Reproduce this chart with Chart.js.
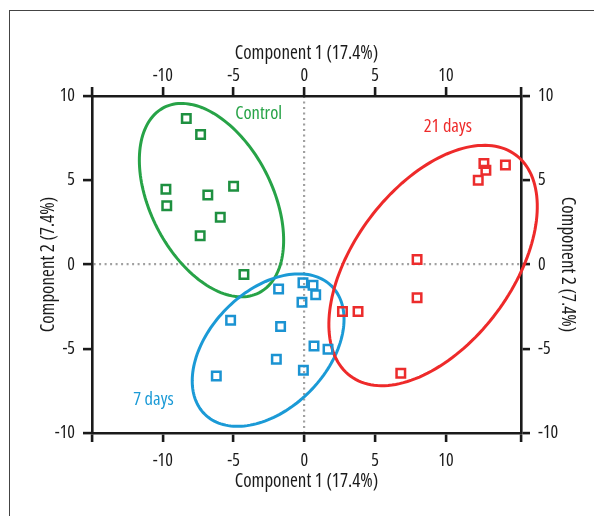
<!DOCTYPE html>
<html>
<head>
<meta charset="utf-8">
<script src="https://cdn.jsdelivr.net/npm/chart.js@4/dist/chart.umd.min.js"></script>
<style>
  html, body { margin: 0; background: #fff; }
  #wrap { position: relative; width: 594px; height: 516px; }
  #frame { position: absolute; left: 9px; top: 10px; right: 0; bottom: 0;
           border-left: 1.5px solid #444; border-top: 1.5px solid #444; }
  #chart { position: absolute; left: 0; top: 0; }
</style>
</head>
<body>
<div id="wrap">
  <div id="frame"></div>
  <canvas id="chart" width="594" height="516"></canvas>
</div>
<script>
// PCA scores
const controlX = [-8.34, -7.33, -9.78, -9.72, -6.82, -5.0, -5.94, -7.36, -4.27];
const controlY = [8.66, 7.71, 4.47, 3.48, 4.12, 4.65, 2.8, 1.71, -0.6];
const days7X = [-0.1, 0.61, 0.8, -1.82, -0.17, -5.21, -1.68, 0.68, 1.67, -1.98, -0.07, -6.22];
const days7Y = [-1.08, -1.23, -1.79, -1.45, -2.24, -3.31, -3.68, -4.83, -5.03, -5.62, -6.27, -6.62];
const days21X = [12.68, 12.82, 14.2, 12.28, 7.96, 7.96, 2.69, 3.79, 6.81];
const days21Y = [6.0, 5.6, 5.91, 5.0, 0.29, -1.97, -2.79, -2.79, -6.45];

// group ellipses (data units): centre, major half-axis vector, minor half-axis vector
const groupNames = ["Control", "7 days", "21 days"];
const ellipseCX = [-6.56, -2.56, 9.09];
const ellipseCY = [3.82, -5.08, -0.06];
const ellipseMajorX = [3.35, 4.47, 5.84];
const ellipseMajorY = [-5.5, 3.81, 6.56];
const ellipseMinorX = [-3.84, 2.96, 4.48];
const ellipseMinorY = [-1.64, -2.44, -2.8];
// where the group names sit
const labelX = [-3.23, -10.66, 10.13];
const labelY = [8.92, -8.03, 8.2];

const xTicks = [-10, -5, 0, 5, 10];
const yTicks = [-10, -5, 0, 5, 10];
const xMin = -15, xMax = 15.3;
const yMin = -10, yMax = 10;
const xTitle = "Component 1 (17.4%)";
const yTitle = "Component 2 (7.4%)";

const lineColors = ["#27a347", "#1b9ad6", "#ee2a2a"];
const markColors = ["#1e9040", "#1b93d2", "#ec2c2c"];
// "condensed" goes in the weight slot so the canvas font string picks the narrow Open Sans
const FAMILY = "'Open Sans', 'Roboto Condensed', sans-serif";
const INK = "#1a1a1a";

function pts(xs, ys) {
  return xs.map((x, i) => ({ x: x, y: ys[i] }));
}

const groupPlugin = {
  id: "groups",
  beforeDatasetsDraw(chart) {
    const { ctx, scales } = chart;
    const sx = scales.x, sy = scales.y;
    ctx.save();
    ctx.lineWidth = 3;
    groupNames.forEach((name, g) => {
      ctx.strokeStyle = lineColors[g];
      ctx.beginPath();
      for (let i = 0; i <= 160; i++) {
        const t = (i / 160) * Math.PI * 2;
        const vx = ellipseCX[g] + ellipseMajorX[g] * Math.cos(t) + ellipseMinorX[g] * Math.sin(t);
        const vy = ellipseCY[g] + ellipseMajorY[g] * Math.cos(t) + ellipseMinorY[g] * Math.sin(t);
        const px = sx.getPixelForValue(vx), py = sy.getPixelForValue(vy);
        if (i === 0) ctx.moveTo(px, py); else ctx.lineTo(px, py);
      }
      ctx.closePath();
      ctx.stroke();
    });
    ctx.font = "condensed 18.5px " + FAMILY;
    ctx.textAlign = "center";
    ctx.textBaseline = "middle";
    groupNames.forEach((name, g) => {
      ctx.fillStyle = lineColors[g];
      ctx.fillText(name, sx.getPixelForValue(labelX[g]), sy.getPixelForValue(labelY[g]));
    });
    ctx.restore();
  }
};

const tickFont = { family: FAMILY, size: 18, weight: "condensed" };
const titleFont = { family: FAMILY, size: 19, weight: "condensed" };

function xAxis(pos, withGrid, h, tickPad, titlePad) {
  return {
    type: "linear", position: pos, axis: "x", min: xMin, max: xMax,
    afterBuildTicks: (s) => { s.ticks = [xMin, ...xTicks, xMax].map((v) => ({ value: v })); },
    afterFit: (s) => { s.height = h; },
    ticks: {
      callback: (v) => (xTicks.includes(v) ? String(v) : ""),
      font: tickFont, color: INK, padding: tickPad,
      maxRotation: 0, autoSkip: false
    },
    grid: {
      drawOnChartArea: withGrid,
      color: (c) => (c.tick && c.tick.value === 0 ? "#a0a0a0" : "rgba(0,0,0,0)"),
      lineWidth: 2.2, tickColor: INK, tickWidth: 2.6, tickLength: 9
    },
    border: { color: INK, width: 2.6, dash: [2, 3.5] },
    title: { display: true, text: xTitle, color: INK, font: titleFont, padding: titlePad }
  };
}

function yAxis(pos, withGrid, w, titlePad) {
  return {
    type: "linear", position: pos, axis: "y", min: yMin, max: yMax,
    afterBuildTicks: (s) => { s.ticks = yTicks.map((v) => ({ value: v })); },
    afterFit: (s) => { s.width = w; },
    ticks: { font: tickFont, color: INK, padding: 8 },
    grid: {
      drawOnChartArea: withGrid,
      color: (c) => (c.tick && c.tick.value === 0 ? "#a0a0a0" : "rgba(0,0,0,0)"),
      lineWidth: 2.2, tickColor: INK, tickWidth: 2.6, tickLength: 9
    },
    border: { color: INK, width: 2.6, dash: [2, 3.5] },
    title: { display: true, text: yTitle, color: INK, font: titleFont, padding: titlePad }
  };
}

const series = [pts(controlX, controlY), pts(days7X, days7Y), pts(days21X, days21Y)];

new Chart(document.getElementById("chart"), {
  type: "scatter",
  data: {
    datasets: series.map((d, g) => ({
      label: groupNames[g],
      data: d,
      pointStyle: "rect",
      pointRadius: 6,
      pointHoverRadius: 6,
      borderWidth: 2.5,
      borderColor: markColors[g],
      backgroundColor: "rgba(0,0,0,0)"
    }))
  },
  options: {
    responsive: false,
    animation: false,
    devicePixelRatio: 1,
    layout: { padding: 0 },
    plugins: { legend: { display: false }, tooltip: { enabled: false } },
    scales: {
      x: xAxis("bottom", true, 83, 8, { top: 0, bottom: 23 }),
      x2: xAxis("top", false, 96, 0, { top: 42, bottom: 0 }),
      y: yAxis("left", true, 92, { top: 37, bottom: 0 }),
      y2: yAxis("right", false, 73, { top: 15.1, bottom: 0 })
    }
  },
  plugins: [groupPlugin]
});
</script>
</body>
</html>
